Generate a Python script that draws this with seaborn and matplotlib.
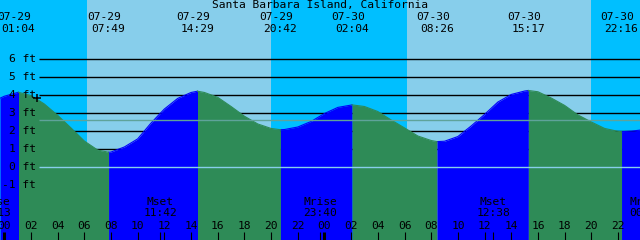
import pandas as pd
import matplotlib
matplotlib.use("Agg")
import matplotlib.pyplot as plt
import seaborn as sns

title = "Santa Barbara Island, California"
year = "2024-"

# high / low tides
event_times = ["07-29 01:04", "07-29 07:49", "07-29 14:29", "07-29 20:42",
               "07-30 02:04", "07-30 08:26", "07-30 15:17", "07-30 22:16"]
event_heights = [4.15, 0.82, 4.21, 2.07, 3.45, 1.41, 4.25, 1.96]

hourly_start = "07-29 00:00"
hourly_heights = [3.93, 4.14, 3.97, 3.50, 2.87, 2.17, 1.44, 0.94, 0.83, 1.11,
                  1.56, 2.44, 3.22, 3.81, 4.14, 4.14, 3.87, 3.36, 2.82, 2.39,
                  2.14, 2.08, 2.22, 2.53, 2.97, 3.31, 3.44, 3.36, 3.08, 2.61,
                  2.17, 1.72, 1.47, 1.43, 1.69, 2.28, 2.92, 3.61, 4.03, 4.22,
                  4.18, 3.83, 3.42, 2.89, 2.50, 2.14, 1.98, 1.99, 2.08]
edge_time = "07-28 23:41"
edge_height = 3.82

sun_times = ["07-29 06:11", "07-29 20:00", "07-30 06:11", "07-30 20:00"]  # rise, set, rise, set
moon_events = ["Mrise", "Mset", "Mrise", "Mset", "Mrise"]
moon_times = ["07-28 23:13", "07-29 11:42", "07-29 23:40", "07-30 12:38", "07-31 00:07"]

ft_levels = [6, 5, 4, 3, 2, 1, 0, -1]
mean_level = 2.61

night_col = "#00BFFF"
day_col = "#87CEEB"
rise_col = "#0000FF"
fall_col = "#2E8B57"

t0 = pd.Timestamp(year + "07-29 00:00")


def hrs(s):
    return (pd.Timestamp(year + s) - t0) / pd.Timedelta(hours=1)


ev_t = [hrs(s) for s in event_times]
start = hrs(hourly_start)
hourly_t = [start + i for i in range(len(hourly_heights))]

curve = pd.DataFrame({
    "t": [hrs(edge_time)] + hourly_t + ev_t,
    "ft": [edge_height] + hourly_heights + event_heights,
}).sort_values("t").reset_index(drop=True)

# split into rising / falling pieces at each high and low
bounds = [curve.t.min()] + ev_t + [curve.t.max()]
pieces = []
for i in range(len(bounds) - 1):
    part = curve[(curve.t >= bounds[i]) & (curve.t <= bounds[i + 1])].copy()
    part["seg"] = i
    part["phase"] = "rise" if part.ft.iloc[-1] > part.ft.iloc[0] else "fall"
    pieces.append(part)
tide = pd.concat(pieces, ignore_index=True)

x0, x1 = -0.32, 47.65
y0, y1 = -4.06, 9.28

fig = plt.figure(figsize=(6.4, 2.4), dpi=100)
ax = fig.add_axes([0, 0, 1, 1])

# night / day bands
sun_t = [hrs(s) for s in sun_times]
edges = [x0] + sun_t + [x1]
for i in range(len(edges) - 1):
    ax.axvspan(edges[i], edges[i + 1], color=night_col if i % 2 == 0 else day_col,
               lw=0, zorder=0)

line_start = 2.6
for lv in ft_levels:
    if lv > 0:
        ax.hlines(lv, line_start, x1, color="black", lw=1.0, zorder=1)

for seg, part in tide.groupby("seg"):
    c = rise_col if part.phase.iloc[0] == "rise" else fall_col
    ax.fill_between(part.t, part.ft, y0 - 1, color=c, lw=0, antialiased=False, zorder=2)
sns.lineplot(data=tide, x="t", y="ft", hue="phase", units="seg", estimator=None,
             palette={"rise": rise_col, "fall": fall_col}, legend=False, sort=False,
             lw=0.8, ax=ax, zorder=2)
ax.set_xlim(x0, x1)
ax.set_ylim(y0, y1)
ax.axis("off")

ax.hlines(0, line_start, x1, color=day_col, lw=1.0, zorder=3)
ax.hlines(mean_level, line_start, x1, color="#5fa39a", lw=1.0, zorder=3)
ax.plot([2.45], [3.86], marker="+", ms=6, mew=1.1, color="black", zorder=4)

font = dict(family="DejaVu Sans Mono", fontsize=8.1, color="black", zorder=5)

for lv in ft_levels:
    ax.text(2.37, lv, f"{lv} ft", ha="right", va="center", **font)

ax.text((x0 + x1) / 2, 9.0, title, ha="center", va="center", **font)

for s, t in zip(event_times, ev_t):
    day, clock = s.split()
    ax.text(t - 0.3, 8.33, day, ha="center", va="center", **font)
    ax.text(t, 7.65, clock, ha="center", va="center", **font)

moon_t = [hrs(s) for s in moon_times]
for name, s, t in zip(moon_events, moon_times, moon_t):
    ax.text(t, -1.93, name, ha="center", va="center", **font)
    ax.text(t, -2.57, s.split()[1], ha="center", va="center", **font)
    ax.vlines(t, -3.61, y0, color="black", lw=0.8, zorder=5)

for h in range(0, 48, 2):
    ax.text(h, -3.28, f"{h % 24:02d}", ha="center", va="center", **font)
    ax.vlines(h, -3.61, y0, color="black", lw=2.2 if h % 24 == 0 else 0.8, zorder=5)

fig.savefig("out.png", dpi=100)
